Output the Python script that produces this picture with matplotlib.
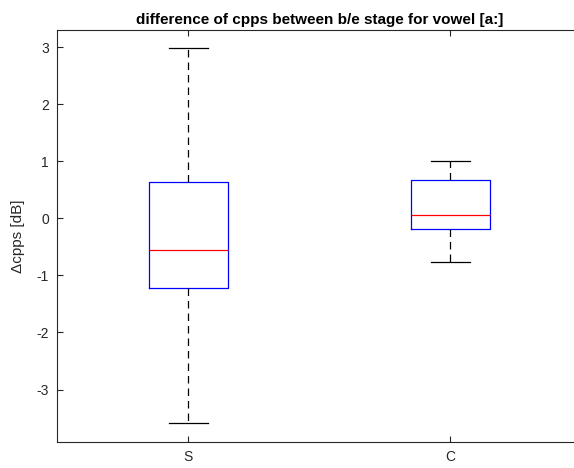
import matplotlib
matplotlib.use("Agg")
import matplotlib.pyplot as plt

plt.rcParams['font.family'] = ['Liberation Sans', 'DejaVu Sans']

categories = ["S", "C"]
whisker_low = [-3.59, -0.76]
q1 = [-1.23, -0.19]
median = [-0.56, 0.06]
q3 = [0.635, 0.68]
whisker_high = [2.98, 1.00]
yticks = [-3, -2, -1, 0, 1, 2, 3]

stats = []
for i, c in enumerate(categories):
    stats.append(dict(label=c, whislo=whisker_low[i], q1=q1[i], med=median[i],
                      q3=q3[i], whishi=whisker_high[i], fliers=[]))

fig = plt.figure(figsize=(5.74, 4.68), dpi=100)
ax = fig.add_axes([57.3/574, 26/468, 524/574, 412/468])

ax.bxp(stats, positions=[1, 2], widths=0.3, showfliers=False,
       boxprops=dict(color='blue', linewidth=0.9),
       medianprops=dict(color='red', linewidth=0.9),
       whiskerprops=dict(color='black', linestyle=(0, (6, 4)), linewidth=0.9),
       capprops=dict(color='black', linewidth=0.9),
       capwidths=0.15)

ax.set_xlim(0.5, 2.5)
ax.set_ylim(-3.92, 3.3)
ax.set_yticks(yticks)
ax.set_yticklabels([str(t) for t in yticks])
ax.set_xticks([1, 2])
ax.set_xticklabels(categories)
axc = '#262626'
for s in ax.spines.values():
    s.set_color(axc)
    s.set_linewidth(0.8)
ax.tick_params(direction='in', top=True, right=True, length=4, width=0.8,
               colors=axc, labelsize=10, pad=6)
ax.set_ylabel('Δcpps [dB]', fontsize=11, color=axc, labelpad=8)
ax.set_title('difference of cpps between b/e stage for vowel [a:]',
             fontsize=11, fontweight='bold', color='black', pad=4)

fig.savefig('out.png', dpi=100)
